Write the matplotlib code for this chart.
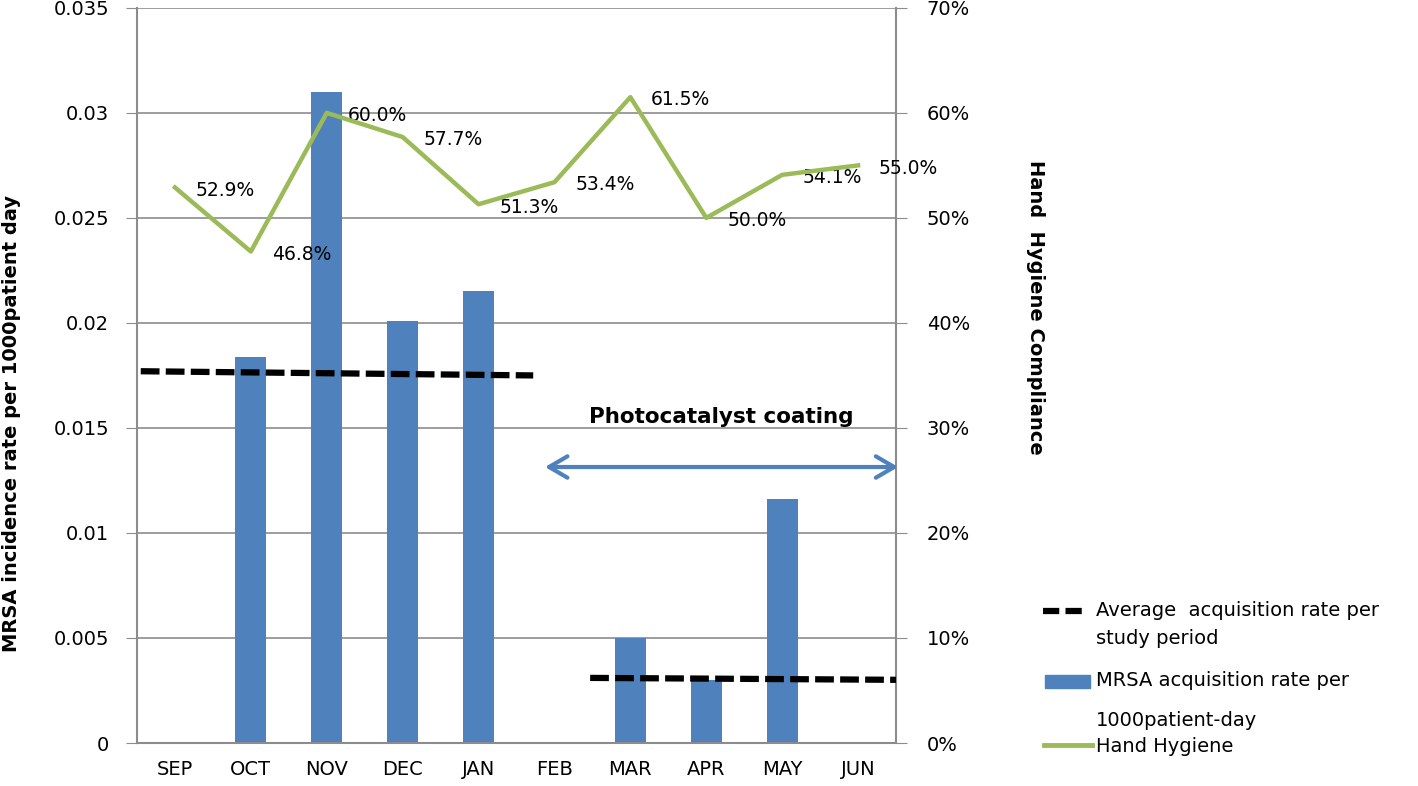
import numpy as np
import matplotlib.pyplot as plt
from matplotlib.lines import Line2D
from matplotlib.patches import Rectangle

plt.rcParams['font.family'] = ['DejaVu Sans']

# data
months = ['SEP', 'OCT', 'NOV', 'DEC', 'JAN', 'FEB', 'MAR', 'APR', 'MAY', 'JUN']
mrsa_rate = [0, 0.0184, 0.0310, 0.0201, 0.0215, 0, 0.0050, 0.0030, 0.0116, 0]
hand_hygiene = [52.9, 46.8, 60.0, 57.7, 51.3, 53.4, 61.5, 50.0, 54.1, 55.0]
avg_before_x = [-0.45, 4.72]
avg_before = [0.0177, 0.0175]
avg_after_x = [5.47, 9.88]
avg_after = [0.0031, 0.0030]

bar_color = '#4F81BD'
line_color = '#9BBB59'
grid_color = '#8C8C8C'

fig = plt.figure(figsize=(14.18, 7.86), dpi=100)
ax = fig.add_axes([0.0966, 0.0547, 0.5353, 0.9353])
x = np.arange(len(months))

ax.set_axisbelow(True)
ax.yaxis.grid(True, color=grid_color, lw=1.2)
ax.bar(x, mrsa_rate, width=0.41, color=bar_color, zorder=2)

for xs, ys in [(avg_before_x, avg_before), (avg_after_x, avg_after)]:
    ln, = ax.plot(xs, ys, color='black', lw=4.5, zorder=3)
    ln.set_dashes((3.0, 1.0))

ax.set_xlim(-0.5, 9.5)
ax.set_ylim(0, 0.035)
ax.set_yticks(np.arange(0, 0.0351, 0.005))
ax.set_yticklabels(['0', '0.005', '0.01', '0.015', '0.02', '0.025', '0.03', '0.035'])
ax.set_xticks(x)
ax.set_xticklabels(months)
ax.tick_params(axis='y', length=8, color=grid_color, labelsize=14, pad=12)
ax.tick_params(axis='x', length=0, labelsize=14, pad=12)
for side in ['left', 'right', 'bottom']:
    ax.spines[side].set_color(grid_color)
    ax.spines[side].set_linewidth(1.5)
ax.spines['top'].set_visible(False)
fig.text(12 / 1418, 1 - 423 / 786, 'MRSA incidence rate per 1000patient day',
         rotation=90, fontsize=14, fontweight='bold', ha='center', va='center')

# photocatalyst period
ax.annotate('', xy=(9.53, 0.01314), xytext=(4.875, 0.01314),
            arrowprops=dict(arrowstyle='<->,head_length=0.6,head_width=0.35',
                            color=bar_color, lw=3, mutation_scale=22,
                            shrinkA=0, shrinkB=0),
            annotation_clip=False)
ax.text(7.2, 0.0155, 'Photocatalyst coating', fontsize=15.5, fontweight='bold',
        ha='center', va='center')

ax2 = ax.twinx()
ax2.plot(x, hand_hygiene, color=line_color, lw=3.2, zorder=4)
for xi, v in zip(x, hand_hygiene):
    ax2.annotate('{:.1f}%'.format(v), (xi, v), xytext=(15, -2),
                 textcoords='offset points', ha='left', va='center', fontsize=13.5)
ax2.set_ylim(0, 70)
ax2.set_yticks(np.arange(0, 71, 10))
ax2.set_yticklabels(['{}%'.format(v) for v in range(0, 71, 10)])
ax2.tick_params(axis='y', length=8, color=grid_color, labelsize=14, pad=14)
for side in ['left', 'right', 'bottom', 'top']:
    ax2.spines[side].set_visible(False)
fig.text(1035 / 1418, 1 - 307 / 786, 'Hand  Hygiene Compliance', rotation=-90,
         fontsize=14, fontweight='bold', ha='center', va='center')

# legend drawn by hand to follow the original wrapping
W, H = 1418, 786
def fx(px):
    return px / W
def fy(py):
    return 1 - py / H

dash = Line2D([fx(1043), fx(1082)], [fy(611), fy(611)], color='black', lw=4.5,
              transform=fig.transFigure)
dash.set_dashes((2.6, 1.0))
fig.add_artist(dash)
fig.text(fx(1096), fy(611), 'Average  acquisition rate per', fontsize=14, va='center')
fig.text(fx(1096), fy(638), 'study period', fontsize=14, va='center')
fig.add_artist(Rectangle((fx(1045), fy(688)), fx(45), 13 / H, color=bar_color,
                         transform=fig.transFigure))
fig.text(fx(1096), fy(681), 'MRSA acquisition rate per', fontsize=14, va='center')
fig.text(fx(1096), fy(721), '1000patient-day', fontsize=14, va='center')
fig.add_artist(Line2D([fx(1044), fx(1092)], [fy(745), fy(745)], color=line_color,
                      lw=3.5, transform=fig.transFigure))
fig.text(fx(1096), fy(746), 'Hand Hygiene', fontsize=14, va='center')

fig.savefig('out.png', dpi=100)
